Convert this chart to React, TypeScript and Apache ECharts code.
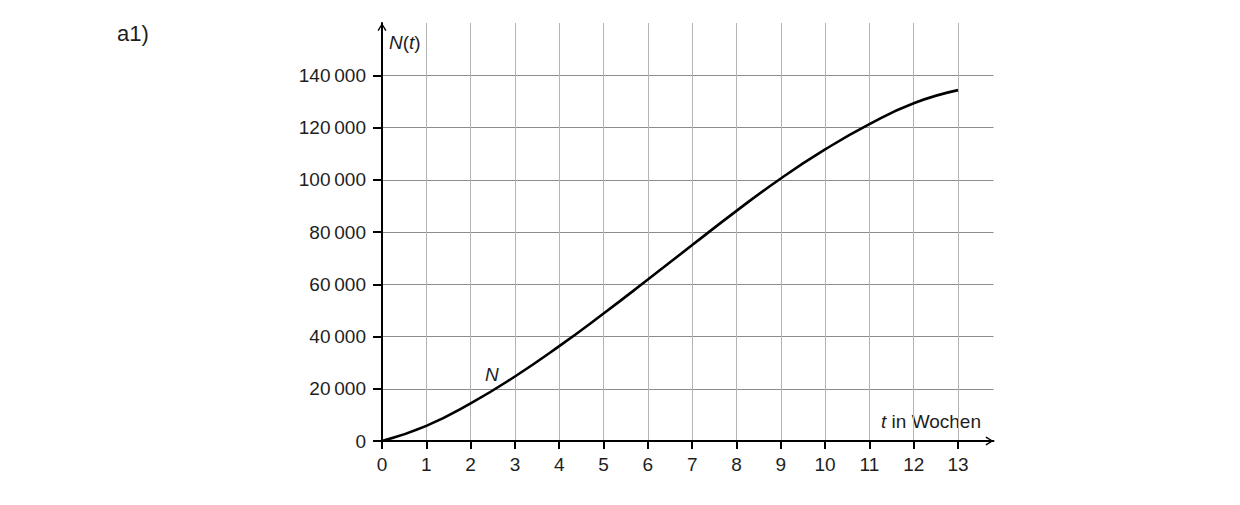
import React, { useEffect, useRef } from "react";
import * as echarts from "echarts";

const tValues = [0, 1, 2, 3, 4, 5, 6, 7, 8, 9, 10, 11, 12, 13];
const nValues = [0, 5800, 14400, 24700, 36300, 48800, 61800, 75000, 88100, 100500, 111600, 121300, 129300, 134300];
const xTicks = [0, 1, 2, 3, 4, 5, 6, 7, 8, 9, 10, 11, 12, 13];
const yTicks = [0, 20000, 40000, 60000, 80000, 100000, 120000, 140000];
const curveLabel = { t: 2.48, n: 25600, text: "N" };

const FONT = '"Liberation Sans", Arial, Helvetica, sans-serif';
const TEXT = "#1e1e1e";
const FS = 19;

const fmt = (v: number) => String(v).replace(/\B(?=(\d{3})+(?!\d))/g, "\u2009");

const arrowPath = "path://M5,0 L10,8 L8.6,8.9 L5,2.6 L1.4,8.9 L0,8 Z";

export default function App() {
  const ref = useRef<HTMLDivElement>(null);
  useEffect(() => {
    if (!ref.current) return;
    const chart = echarts.init(ref.current, undefined, { renderer: "svg" });
    chart.setOption({
      animation: false,
      backgroundColor: "#ffffff",
      textStyle: { fontFamily: FONT },
      grid: { left: 382, right: 246.5, top: 23, bottom: 64, containLabel: false },
      xAxis: {
        type: "value",
        min: 0,
        max: 13.8,
        axisLine: {
          show: true,
          lineStyle: { color: "#000", width: 2 },
          symbol: ["none", arrowPath],
          symbolSize: [11, 8],
          symbolOffset: [0, -4],
        },
        axisTick: { show: true, customValues: xTicks, length: 8, lineStyle: { color: "#000", width: 2 } },
        axisLabel: {
          show: true,
          customValues: xTicks,
          margin: 14,
          fontSize: FS,
          color: TEXT,
          fontFamily: FONT,
        },
        splitLine: { show: true, lineStyle: { color: "#b4b4b4", width: 1 } },
      },
      yAxis: {
        type: "value",
        min: 0,
        max: 160000,
        axisLine: {
          show: true,
          lineStyle: { color: "#000", width: 2 },
          symbol: ["none", arrowPath],
          symbolSize: [11, 8],
          symbolOffset: [0, -4],
        },
        axisTick: { show: true, customValues: yTicks, length: 9, lineStyle: { color: "#000", width: 2 } },
        axisLabel: {
          show: true,
          customValues: yTicks,
          margin: 16,
          fontSize: FS,
          color: TEXT,
          fontFamily: FONT,
          formatter: (v: number) => fmt(v),
        },
        splitLine: { show: true, lineStyle: { color: "#8c8c8c", width: 1 } },
      },
      series: [
        {
          type: "line",
          data: tValues.map((t, i) => [t, nValues[i]]),
          smooth: true,
          showSymbol: false,
          lineStyle: { color: "#000", width: 2.6 },
          z: 5,
          markPoint: {
            symbol: "circle",
            symbolSize: 1,
            itemStyle: { color: "rgba(0,0,0,0)" },
            label: {
              show: true,
              position: "inside",
              formatter: curveLabel.text,
              fontStyle: "italic",
              fontSize: FS,
              color: TEXT,
              fontFamily: FONT,
            },
            data: [{ coord: [curveLabel.t, curveLabel.n] }],
          },
        },
      ],
      graphic: [
        {
          type: "text",
          x: 117,
          y: 33,
          style: { text: "a1)", fontSize: 22, fill: TEXT, fontFamily: FONT, verticalAlign: "middle" },
        },
        {
          type: "text",
          x: 389,
          y: 42,
          style: {
            text: "{i|N}{n|(}{i|t}{n|)}",
            verticalAlign: "middle",
            rich: {
              i: { fontStyle: "italic", fontSize: FS, fill: TEXT, fontFamily: FONT },
              n: { fontSize: FS, fill: TEXT, fontFamily: FONT },
            },
          },
        },
        {
          type: "text",
          x: 981,
          y: 421,
          style: {
            text: "{i|t}{n| in Wochen}",
            align: "right",
            verticalAlign: "middle",
            rich: {
              i: { fontStyle: "italic", fontSize: FS, fill: TEXT, fontFamily: FONT },
              n: { fontSize: FS, fill: TEXT, fontFamily: FONT },
            },
          },
        },
      ],
    });
    return () => chart.dispose();
  }, []);
  return <div ref={ref} style={{ position: "fixed", left: 0, top: 0, width: 1240, height: 505 }} />;
}
